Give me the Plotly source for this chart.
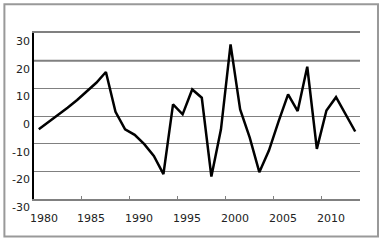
import plotly.graph_objects as go

years = list(range(1980, 2014))
values = [-4.8, -2.3, 0.4, 3.0, 5.8, 8.8, 12.0, 15.9, 1.5, -4.8,
          -6.8, -10.2, -14.4, -21.0, 4.2, 0.6, 9.6, 6.6, -21.9, -4.8,
          25.9, 2.4, -7.8, -20.3, -12.5, -2.0, 7.8, 1.8, 17.8, -11.9,
          2.0, 6.8, 0.6, -5.6]
x_tick_labels = [1980, 1985, 1990, 1995, 2000, 2005, 2010]
y_tick_values = [-30, -20, -10, 0, 10, 20, 30]

fig = go.Figure()
fig.add_trace(go.Scatter(x=years, y=values, mode="lines",
                         line=dict(color="black", width=2.5), showlegend=False))

font = dict(family="DejaVu Sans", size=11, color="#222")

annotations = []
for yr in x_tick_labels:
    annotations.append(dict(x=yr - 0.5, xref="x", y=0, yref="paper",
                            text=str(yr), showarrow=False, font=font,
                            xanchor="center", yanchor="middle",
                            xshift=9.5, yshift=-19))
for v in y_tick_values:
    annotations.append(dict(x=0, xref="paper", y=v, yref="y",
                            text=str(v), showarrow=False, font=font,
                            xanchor="right", yanchor="middle",
                            xshift=-2, yshift=-8.5))

fig.update_layout(
    width=383, height=242,
    margin=dict(l=34, r=23, t=33, b=43, autoexpand=False),
    paper_bgcolor="white", plot_bgcolor="white",
    font=font,
    xaxis=dict(range=[years[0] - 0.5, years[-1] + 0.5],
               tickvals=[y - 0.5 for y in x_tick_labels],
               showticklabels=False,
               ticks="inside", ticklen=3, tickcolor="#808080", tickwidth=1,
               showline=True, linecolor="#808080", linewidth=2, mirror=True,
               showgrid=False, zeroline=False, automargin=False),
    yaxis=dict(range=[-30, 30], tickvals=y_tick_values,
               showticklabels=False,
               showgrid=True, gridcolor="#808080", gridwidth=1.2,
               showline=True, linecolor="black", linewidth=2,
               ticks="", zeroline=False, automargin=False),
    annotations=annotations,
    shapes=[
        dict(type="line", xref="paper", yref="y", x0=0, x1=1, y0=20, y1=20,
             line=dict(color="#808080", width=2), layer="below"),
        dict(type="rect", xref="paper", yref="paper",
             x0=-0.0908, x1=1.0552, y0=-0.2259, y1=1.1729,
             line=dict(color="#999", width=2)),
    ],
)

fig.write_html("out.html", config={"displayModeBar": False},
               post_script="document.body.style.margin='0';")
